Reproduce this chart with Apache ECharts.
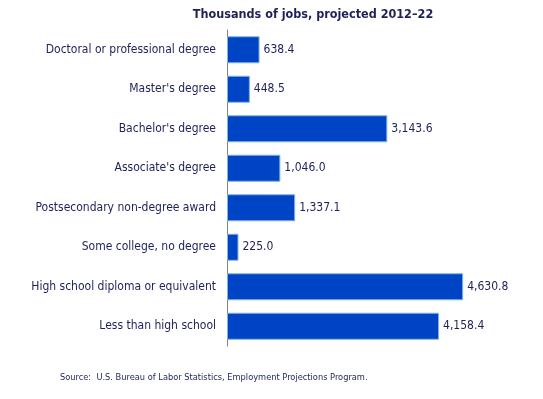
<!DOCTYPE html>
<html>
<head>
<meta charset="utf-8">
<script src="https://cdn.jsdelivr.net/npm/echarts@6/dist/echarts.min.js"></script>
<style>
  html, body { margin: 0; padding: 0; background: #fff; }
  #chart { width: 543px; height: 399px; }
</style>
</head>
<body>
<div id="chart"></div>
<script>
var categories = [
  'Doctoral or professional degree',
  "Master's degree",
  "Bachelor's degree",
  "Associate's degree",
  'Postsecondary non-degree award',
  'Some college, no degree',
  'High school diploma or equivalent',
  'Less than high school'
];
var jobs = [638.4, 448.5, 3143.6, 1046.0, 1337.1, 225.0, 4630.8, 4158.4];

var narrow = '"DejaVu Sans Condensed", "Liberation Sans Narrow", sans-serif';
var textColor = '#1c2159';

function fmt(v) {
  var s = v.toFixed(1).split('.');
  return s[0].replace(/\B(?=(\d{3})+(?!\d))/g, ',') + '.' + s[1];
}

var chart = echarts.init(document.getElementById('chart'));
chart.setOption({
  animation: false,
  title: [{
    text: 'Thousands of jobs, projected 2012\u201322',
    left: 308,
    top: 3,
    textAlign: 'center',
    textStyle: { fontFamily: narrow, fontWeight: 'bold', fontSize: 12.5, color: textColor }
  }, {
    text: 'Source:  U.S. Bureau of Labor Statistics, Employment Projections Program.',
    left: 55,
    top: 368,
    textStyle: { fontFamily: narrow, fontWeight: 'normal', fontSize: 9.2, color: textColor }
  }],
  grid: { left: 227, right: 61, top: 30, bottom: 53, containLabel: false },
  xAxis: {
    type: 'value', min: 0, max: 5000,
    show: false
  },
  yAxis: {
    type: 'category',
    inverse: true,
    data: categories,
    axisLine: { show: true, lineStyle: { color: '#808080', width: 1 } },
    axisTick: { show: false },
    axisLabel: { fontFamily: narrow, fontSize: 12, color: textColor, margin: 11 }
  },
  series: [{
    type: 'bar',
    data: jobs,
    barWidth: 27,
    itemStyle: { color: '#0044c6', borderColor: '#7fb3e0', borderWidth: 1 },
    label: {
      show: true, position: 'right', distance: 4,
      fontFamily: narrow, fontSize: 12, color: textColor,
      formatter: function (p) { return fmt(p.value); }
    }
  }]
});
</script>
</body>
</html>
